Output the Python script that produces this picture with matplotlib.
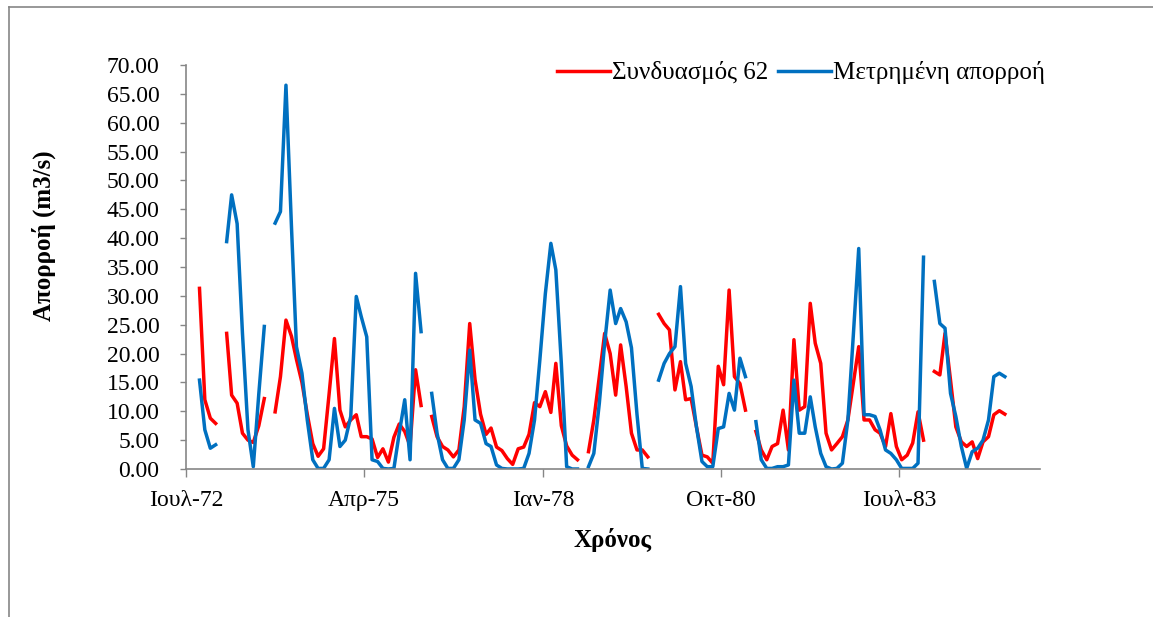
import numpy as np
import pandas as pd
import matplotlib
matplotlib.use("Agg")
import matplotlib.pyplot as plt
from matplotlib.lines import Line2D
from matplotlib.ticker import FormatStrFormatter

nan = np.nan

# monthly values starting Sep-1972 (nan = missing month)
sindiasmos_62 = [
    31.3, 12.0, 8.8, 7.9, nan,
    23.5, 12.8, 11.4, 6.2, 5.0, 4.6, 7.5, 12.2, nan,
    9.9, 16.0, 25.8, 23.0, 19.0, 15.0, 9.5, 4.4, 2.2, 3.5, 13.0, 22.6,
    10.2, 7.3, 8.5, 9.4, 5.6, 5.6, 5.2, 2.0, 3.5, 1.2, 5.5, 7.8, 6.5, 4.0,
    17.2, 11.0, nan,
    9.1, 5.6, 3.9, 3.3, 2.1, 3.3, 10.8, 25.2, 15.5, 9.5, 6.0, 7.1, 3.8,
    3.2, 1.8, 0.8, 3.5, 3.8, 6.0, 11.5, 10.8, 13.4, 9.8, 18.3, 7.5, 4.0,
    2.4, 1.6, nan,
    3.0, 8.5, 16.0, 23.5, 20.0, 12.8, 21.5, 14.3, 6.2, 3.3, 3.3, 2.1, nan,
    26.8, 25.2, 24.1, 13.7, 18.6, 12.0, 12.2, 7.3, 2.4, 2.1, 1.0, 17.8,
    14.6, 31.0, 16.0, 14.8, 10.2, nan,
    6.5, 3.3, 1.6, 3.9, 4.4, 10.2, 3.3, 22.4, 10.2, 10.8, 28.7, 21.8,
    18.3, 6.2, 3.3, 4.4, 5.6, 8.5, 14.8, 21.2, 8.5, 8.5, 6.8, 6.2, 3.9,
    9.6, 3.9, 1.6, 2.4, 4.5, 9.9, 5.0, nan,
    16.9, 16.3, 23.5, 15.4, 7.3, 4.7, 3.9, 4.7, 1.8, 4.7, 5.6, 9.4, 10.1,
    9.5,
]

metrimeni = [
    15.4, 6.8, 3.6, 4.2, nan,
    39.4, 47.5, 42.5, 23.5, 6.8, 0.4, 13.0, 24.7, nan,
    42.6, 44.6, 66.5, 42.0, 21.2, 16.6, 8.5, 1.6, 0.1, 0.1, 1.6, 10.5,
    3.9, 5.0, 9.1, 29.9, 26.4, 22.9, 1.6, 1.3, 0.1, 0.0, 0.1, 6.2, 12.0,
    1.6, 33.9, 23.8, nan,
    13.1, 6.2, 1.6, 0.1, 0.1, 1.6, 8.5, 20.6, 8.5, 7.9, 4.4, 3.9, 0.7,
    0.1, 0.0, 0.0, 0.0, 0.1, 2.7, 8.5, 18.9, 30.4, 39.1, 34.5, 18.3, 0.4,
    0.0, 0.0, nan,
    0.4, 2.7, 11.4, 21.8, 31.0, 25.2, 27.8, 25.5, 21.0, 9.5, 0.1, 0.0, nan,
    15.4, 18.3, 20.0, 21.2, 31.6, 18.3, 14.3, 7.3, 1.3, 0.4, 0.4, 7.0,
    7.3, 13.1, 10.2, 19.2, 16.0, nan,
    8.2, 1.6, 0.1, 0.1, 0.4, 0.4, 0.7, 15.4, 6.2, 6.2, 12.5, 7.3, 2.7,
    0.4, 0.0, 0.1, 1.0, 8.5, 22.9, 38.2, 9.4, 9.4, 9.1, 6.8, 3.3, 2.7,
    1.6, 0.1, 0.1, 0.1, 1.0, 36.7, nan,
    32.5, 25.2, 24.4, 13.1, 9.1, 3.9, 0.1, 3.0, 3.6, 5.0, 8.5, 16.0, 16.6,
    16.0,
]

dates = pd.date_range("1972-09-01", periods=len(metrimeni), freq="MS") + pd.Timedelta(days=14)

tick_dates = pd.to_datetime(["1972-07-01", "1975-04-01", "1978-01-01", "1980-10-01", "1983-07-01"])
tick_labels = ["Ιουλ-72", "Απρ-75", "Ιαν-78", "Οκτ-80", "Ιουλ-83"]

plt.rcParams["font.family"] = ["Liberation Serif", "DejaVu Serif"]

fig = plt.figure(figsize=(11.53, 6.17), dpi=100)
ax = fig.add_axes([186 / 1153, 1 - 469 / 617, 854 / 1153, 404 / 617])

ax.plot(dates, sindiasmos_62, color="#FF0000", lw=2.5, solid_joinstyle="round",
        label="Συνδυασμός 62")
ax.plot(dates, metrimeni, color="#0070C0", lw=2.5, solid_joinstyle="round",
        label="Μετρημένη απορροή")

ax.set_xlim(pd.Timestamp("1972-07-01"), pd.Timestamp("1985-09-01"))
ax.set_ylim(0, 70)
ax.set_yticks(np.arange(0, 71, 5))
ax.yaxis.set_major_formatter(FormatStrFormatter("%.2f"))
ax.set_xticks(tick_dates)
ax.set_xticklabels(tick_labels)

for s in ["top", "right"]:
    ax.spines[s].set_visible(False)
for s in ["left", "bottom"]:
    ax.spines[s].set_color("#868686")
    ax.spines[s].set_linewidth(1.2)

ax.tick_params(axis="y", direction="out", length=4, width=1, color="#868686",
               labelsize=17, pad=15)
ax.tick_params(axis="x", direction="out", length=6, width=1, color="#868686",
               labelsize=17, pad=9)

ax.set_xlabel("Χρόνος", fontsize=18, fontweight="bold")
ax.xaxis.set_label_coords(0.5, -0.145)
ax.set_ylabel("Απορροή (m3/s)", fontsize=18, fontweight="bold", va="center")
ax.yaxis.set_label_coords(-0.166, 0.577)

ax.legend(loc="center left", bbox_to_anchor=(557 / 1153, 1 - 73 / 617),
          bbox_transform=fig.transFigure, ncol=2, frameon=False, fontsize=18,
          handlelength=2.1, handletextpad=0.1, columnspacing=0.4, borderpad=0,
          borderaxespad=0)

# outer chart frame (partly cut off)
fig.add_artist(Line2D([8.5 / 1153, 8.5 / 1153], [0, 1 - 7 / 617], color="#868686", lw=1.2))
fig.add_artist(Line2D([8.5 / 1153, 1], [1 - 7 / 617, 1 - 7 / 617], color="#868686", lw=1.2))

fig.savefig("out.png", dpi=100)
